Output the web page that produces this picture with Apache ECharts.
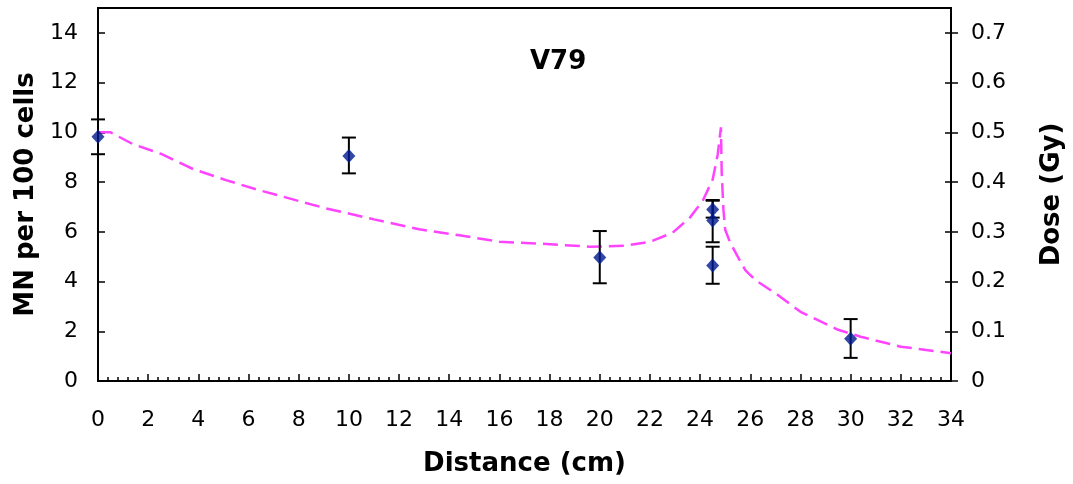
<!DOCTYPE html>
<html>
<head>
<meta charset="utf-8">
<script src="https://cdn.jsdelivr.net/npm/echarts@6/dist/echarts.min.js"></script>
<style>
    html, body { margin: 0; padding: 0; background: #fff; }
    #chart { width: 1073px; height: 484px; }
</style>
</head>
<body>
<div id="chart"></div>
<script>
// MN per 100 cells, measured points with error bars
var mnX = [0, 10, 20, 24.5, 24.5, 24.5, 30];
var mnY = [9.82, 9.05, 4.97, 6.9, 6.45, 4.64, 1.70];
var mnLow = [9.12, 8.35, 3.93, 6.57, 5.58, 3.91, 0.93];
var mnHigh = [10.52, 9.79, 6.03, 7.25, 7.28, 5.40, 2.49];

// dose profile (Gy)
var doseX = [0, 0.5, 1.4, 2.5, 3.8, 5.1, 6.4, 8, 9.1, 11, 12.8, 14.4, 16, 17.7, 19.6, 21, 22,
    22.9, 23.6, 24.1, 24.5, 24.7, 24.77, 24.83, 24.86, 24.93, 25.0, 25.2, 25.5, 25.8, 26.2,
    27.1, 28, 29.5, 30.4, 32, 34];
var doseY = [0.5, 0.5, 0.476, 0.457, 0.426, 0.404, 0.384, 0.362, 0.347, 0.325, 0.305, 0.293, 0.28,
    0.276, 0.27, 0.272, 0.28, 0.298, 0.329, 0.362, 0.405, 0.455, 0.485, 0.51, 0.42, 0.344, 0.304,
    0.278, 0.25, 0.223, 0.203, 0.173, 0.139, 0.103, 0.089, 0.069, 0.056];

var FONT = 'DejaVu Sans';

var myChart = echarts.init(document.getElementById('chart'));

var mnData = [], errData = [], doseData = [];
for (var i = 0; i < mnX.length; i++) {
    mnData.push([mnX[i], mnY[i]]);
    errData.push([mnX[i], mnLow[i], mnHigh[i]]);
}
for (var j = 0; j < doseX.length; j++) {
    doseData.push([doseX[j], doseY[j]]);
}

function renderErrorBar(params, api) {
    var x = api.value(0);
    var low = api.coord([x, api.value(1)]);
    var high = api.coord([x, api.value(2)]);
    var half = 7;
    var style = { stroke: '#000', lineWidth: 2 };
    return {
        type: 'group',
        children: [
            { type: 'line', shape: { x1: low[0], y1: low[1], x2: high[0], y2: high[1] }, style: style },
            { type: 'line', shape: { x1: low[0] - half, y1: low[1], x2: low[0] + half, y2: low[1] }, style: style },
            { type: 'line', shape: { x1: high[0] - half, y1: high[1], x2: high[0] + half, y2: high[1] }, style: style }
        ]
    };
}

var gridBox = { left: 98, right: 121, top: 8, bottom: 103 };
var nameStyle = { fontFamily: FONT, fontSize: 26, fontWeight: 'bold', color: '#000' };
var labelStyle = { fontFamily: FONT, fontSize: 22, color: '#000' };

var option = {
    animation: false,
    textStyle: { fontFamily: FONT },
    title: {
        text: 'V79',
        left: 525,
        top: 44,
        textStyle: { fontFamily: FONT, fontSize: 26, fontWeight: 'bold', color: '#000' }
    },
    grid: [
        {
            left: gridBox.left, right: gridBox.right, top: gridBox.top, bottom: gridBox.bottom,
            show: true,
            borderColor: '#000',
            borderWidth: 2
        },
        // thin grid sitting on the right axis: its left axis gives the inner half of the crossing ticks
        { left: 1073 - gridBox.right, width: 10, top: gridBox.top, bottom: gridBox.bottom }
    ],
    xAxis: [
        {
            type: 'value',
            gridIndex: 0,
            min: 0,
            max: 34,
            interval: 2,
            name: 'Distance (cm)',
            nameLocation: 'middle',
            nameGap: 70,
            nameTextStyle: nameStyle,
            axisLine: { lineStyle: { color: '#000', width: 2 } },
            axisTick: { inside: true, length: 7, lineStyle: { color: '#000', width: 1.5 } },
            minorTick: { show: true, splitNumber: 5, length: 4, lineStyle: { color: '#000', width: 1.5 } },
            splitLine: { show: false },
            axisLabel: Object.assign({ margin: 28 }, labelStyle)
        },
        {
            type: 'value',
            gridIndex: 1,
            min: 0,
            max: 1,
            show: false
        }
    ],
    yAxis: [
        {
            type: 'value',
            gridIndex: 0,
            position: 'left',
            min: 0,
            max: 15,
            interval: 2,
            name: 'MN per 100 cells',
            nameLocation: 'middle',
            nameRotate: 90,
            nameGap: 55,
            nameTextStyle: nameStyle,
            axisLine: { show: true, lineStyle: { color: '#000', width: 2 } },
            axisTick: { show: true, inside: true, length: 7, lineStyle: { color: '#000', width: 1.5 } },
            splitLine: { show: false },
            axisLabel: Object.assign({ margin: 20, showMaxLabel: false }, labelStyle)
        },
        {
            type: 'value',
            gridIndex: 0,
            position: 'right',
            min: 0,
            max: 0.75,
            interval: 0.1,
            name: 'Dose (Gy)',
            nameLocation: 'middle',
            nameRotate: 90,
            nameGap: 88,
            nameTextStyle: nameStyle,
            axisLine: { show: true, lineStyle: { color: '#000', width: 2 } },
            axisTick: { show: true, inside: false, length: 7, lineStyle: { color: '#000', width: 1.5 } },
            splitLine: { show: false },
            axisLabel: Object.assign({
                margin: 20, showMaxLabel: false,
                formatter: function (v) { return v === 0 ? '0' : v.toFixed(1); }
            }, labelStyle)
        },
        {
            type: 'value',
            gridIndex: 1,
            position: 'left',
            min: 0,
            max: 0.75,
            interval: 0.1,
            axisLine: { show: false },
            axisTick: { show: true, inside: false, length: 7, lineStyle: { color: '#000', width: 1.5 } },
            splitLine: { show: false },
            axisLabel: { show: false }
        }
    ],
    series: [
        {
            name: 'Dose',
            type: 'line',
            xAxisIndex: 0,
            yAxisIndex: 1,
            data: doseData,
            symbol: 'none',
            clip: false,
            lineStyle: { color: '#ff44ff', width: 2.5, type: [15, 7] },
            z: 2
        },
        {
            name: 'MN error',
            type: 'custom',
            xAxisIndex: 0,
            yAxisIndex: 0,
            data: errData,
            renderItem: renderErrorBar,
            clip: false,
            z: 3
        },
        {
            name: 'MN',
            type: 'scatter',
            xAxisIndex: 0,
            yAxisIndex: 0,
            data: mnData,
            symbol: 'diamond',
            symbolSize: [13, 14],
            clip: false,
            itemStyle: { color: '#001a90' },
            z: 4
        }
    ]
};

myChart.setOption(option);
</script>
</body>
</html>
